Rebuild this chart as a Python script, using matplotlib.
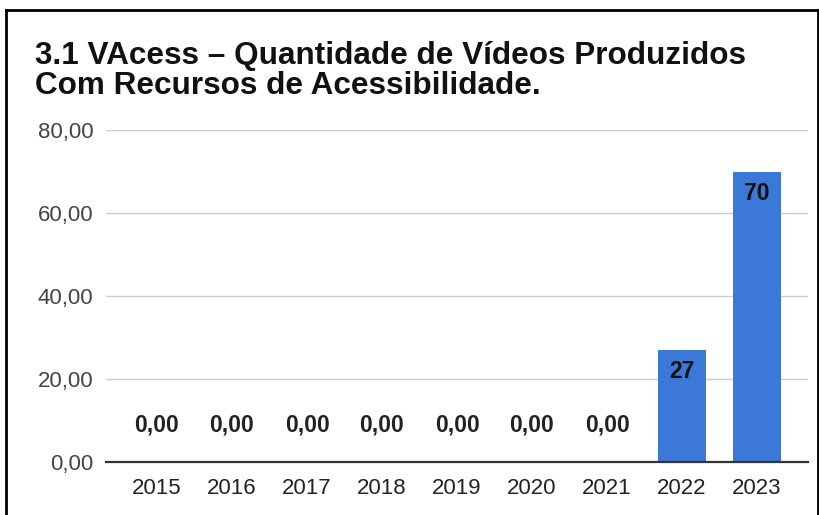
import matplotlib
matplotlib.use("Agg")
import matplotlib.pyplot as plt
from matplotlib.lines import Line2D

years = ["2015", "2016", "2017", "2018", "2019", "2020", "2021", "2022", "2023"]
values = [0, 0, 0, 0, 0, 0, 0, 27, 70]
value_labels = ["0,00", "0,00", "0,00", "0,00", "0,00", "0,00", "0,00", "27", "70"]
y_ticks = [0, 20, 40, 60, 80]
y_tick_labels = ["0,00", "20,00", "40,00", "60,00", "80,00"]
title_lines = ["3.1 VAcess – Quantidade de Vídeos Produzidos",
               "Com Recursos de Acessibilidade."]

plt.rcParams['font.family'] = ['Liberation Sans', 'DejaVu Sans']

W, H = 820, 515
DPI = 100
fig = plt.figure(figsize=(W / DPI, H / DPI), dpi=DPI)
fig.patch.set_facecolor("white")

left, right, bottom, top = 106, 808, 462, 130
ax = fig.add_axes([left / W, (H - bottom) / H, (right - left) / W, (bottom - top) / H])

x = list(range(len(years)))
ax.bar(x, values, width=0.63, color="#3c78d8", zorder=3)
ax.set_xlim(-0.68, len(years) - 1 + 0.68)
ax.set_ylim(0, 80)

ax.set_yticks(y_ticks)
ax.set_yticklabels(y_tick_labels, fontsize=16, color="#444444")
ax.set_xticks(x)
ax.set_xticklabels(years, fontsize=16, color="#222222")
ax.tick_params(axis="y", length=0, pad=9)
ax.tick_params(axis="x", length=0, pad=11.5)

for s in ["top", "right", "left"]:
    ax.spines[s].set_visible(False)
ax.spines["bottom"].set_color("#333333")
ax.spines["bottom"].set_linewidth(1.6)
ax.spines["bottom"].set_zorder(4)

ax.grid(axis="y", color="#cccccc", linewidth=1.0, zorder=0)
ax.set_axisbelow(True)

for xi, v, lab in zip(x, values, value_labels):
    if v == 0:
        ax.annotate(lab, (xi, v), xytext=(0, 37), textcoords="offset pixels",
                    ha="center", va="center", fontsize=16.5, fontweight="bold",
                    color="#222222", zorder=5)
    else:
        ax.annotate(lab, (xi, v), xytext=(0, -22), textcoords="offset pixels",
                    ha="center", va="center", fontsize=16.5, fontweight="bold",
                    color="#111111", zorder=5)

for line, base in zip(title_lines, [64, 93.5]):
    fig.text(35 / W, 1 - base / H, line, fontsize=22.7, fontweight="bold",
             color="#111111", ha="left", va="baseline")

# frame border
lw = 2.0
fig.add_artist(Line2D([6 / W, 6 / W], [0, 1 - 10 / H], color="black", linewidth=lw))
fig.add_artist(Line2D([6 / W, 818 / W], [1 - 10 / H, 1 - 10 / H], color="black", linewidth=lw))
fig.add_artist(Line2D([818 / W, 818 / W], [0, 1 - 10 / H], color="black", linewidth=lw))

fig.savefig("out.png", dpi=DPI)
